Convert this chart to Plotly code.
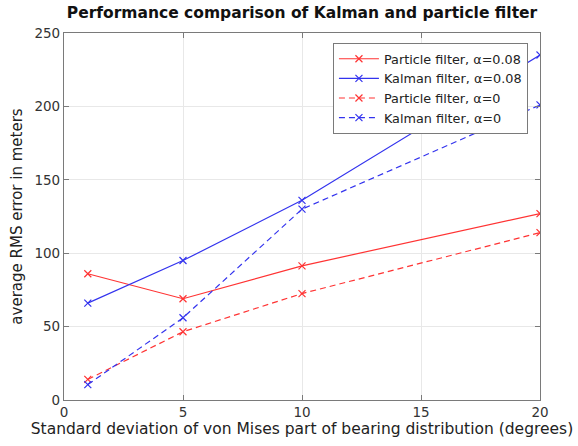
import plotly.graph_objects as go

# Standard deviation of the von Mises component (degrees)
std_dev = [1, 5, 10, 20]

# Average RMS error in meters for each filter / alpha setting
particle_a008 = [86, 69, 91.4, 127]
kalman_a008 = [66, 95, 136, 235]
particle_a0 = [14, 46.5, 72.5, 114]
kalman_a0 = [10.5, 56, 130, 201]

series = [
    ("Particle filter, α=0.08", particle_a008, "#ff3333", "solid"),
    ("Kalman filter, α=0.08", kalman_a008, "#3333ee", "solid"),
    ("Particle filter, α=0", particle_a0, "#ff3333", "6px,4px"),
    ("Kalman filter, α=0", kalman_a0, "#3333ee", "6px,4px"),
]

fig = go.Figure()
for name, vals, color, dash in series:
    fig.add_trace(go.Scatter(
        x=std_dev, y=vals, name=name, mode="lines+markers",
        line=dict(color=color, width=1.2, dash=dash),
        marker=dict(symbol="x-thin-open", size=7, line=dict(color=color, width=1.2)),
    ))

font = "DejaVu Sans, sans-serif"
axis_common = dict(
    showline=True, linecolor="#7a7a7a", linewidth=1.2, mirror="ticks",
    ticks="inside", ticklen=5, tickcolor="#7a7a7a",
    showgrid=True, gridcolor="#e8e8e8", gridwidth=1,
    zeroline=False, tickfont=dict(size=13.5, color="#333333", family=font),
)

fig.update_layout(
    width=578, height=446,
    margin=dict(l=64, r=38, t=33, b=43),
    paper_bgcolor="white", plot_bgcolor="white",
    title=dict(text="<b>Performance comparison of Kalman and particle filter</b>",
               x=0.5, xanchor="center", xref="paper", y=0.985, yanchor="top",
               font=dict(size=15.5, color="#111111", family=font)),
    xaxis=dict(range=[0, 20], tickvals=[0, 5, 10, 15, 20],
               title=dict(text="Standard deviation of von Mises part of bearing distribution (degrees)",
                          font=dict(size=15.5, color="#222222", family=font), standoff=3),
               **axis_common),
    yaxis=dict(range=[0, 250], tickvals=[0, 50, 100, 150, 200, 250],
               title=dict(text="average RMS error in meters",
                          font=dict(size=15, color="#222222", family=font), standoff=8),
               **axis_common),
    legend=dict(x=0.565, y=0.973, xanchor="left", yanchor="top",
                bgcolor="white", bordercolor="#7a7a7a", borderwidth=1,
                font=dict(size=12.8, color="#222222", family=font),
                tracegroupgap=0, itemwidth=40),
    showlegend=True,
)

fig.write_html("out.html")
